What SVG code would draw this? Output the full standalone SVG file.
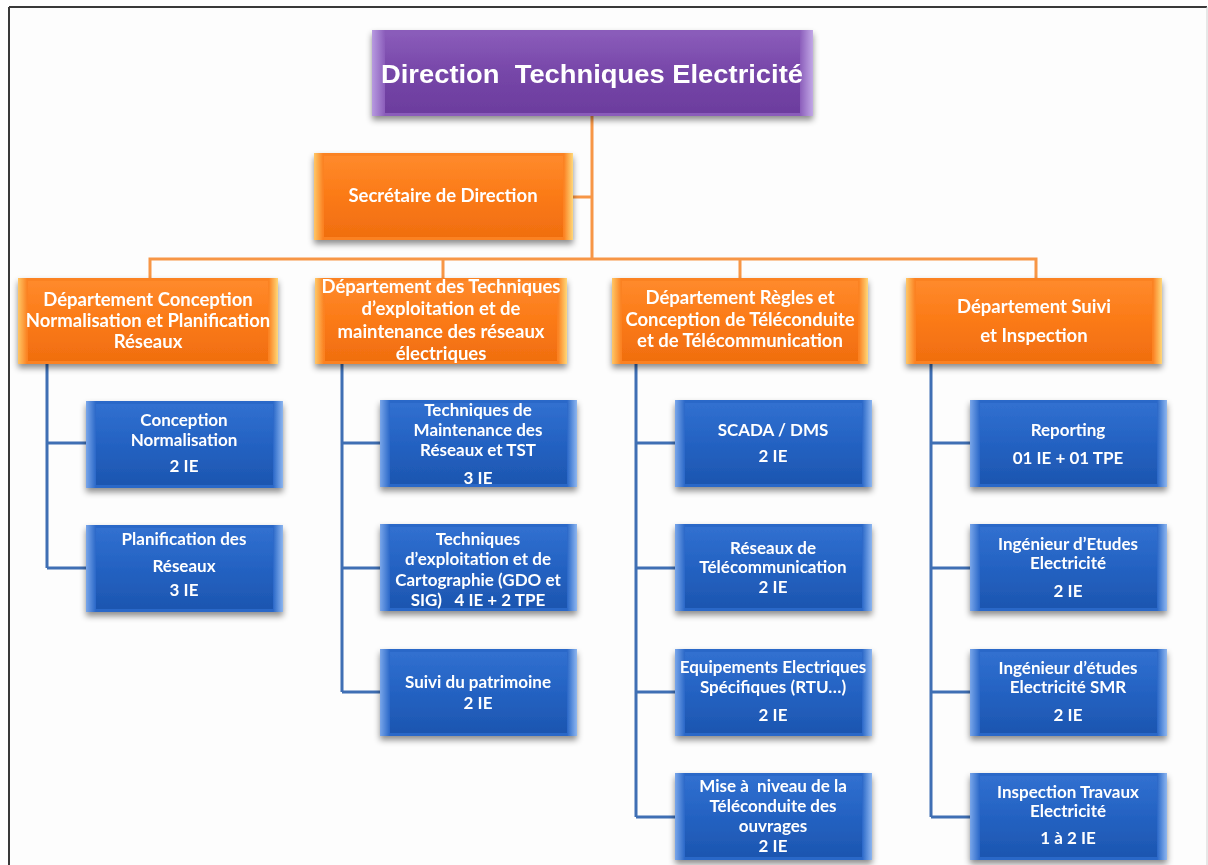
<svg xmlns="http://www.w3.org/2000/svg" width="1208" height="865" viewBox="0 0 1208 865">
  <defs>
    <linearGradient id="gPurple" x1="0" y1="0" x2="0" y2="1">
      <stop offset="0" stop-color="#8a5cba"/>
      <stop offset="0.5" stop-color="#7646a8"/>
      <stop offset="1" stop-color="#6c3d9e"/>
    </linearGradient>
    <linearGradient id="gPurpleEdge" x1="0" y1="0" x2="1" y2="0">
      <stop offset="0" stop-color="#b79ae0"/>
      <stop offset="0.03" stop-color="#8a5cba"/>
      <stop offset="0.97" stop-color="#8a5cba"/>
      <stop offset="1" stop-color="#c2a8e6"/>
    </linearGradient>
    <linearGradient id="gOrange" x1="0" y1="0" x2="0" y2="1">
      <stop offset="0" stop-color="#ff8a2c"/>
      <stop offset="0.5" stop-color="#fb7a16"/>
      <stop offset="1" stop-color="#f06e10"/>
    </linearGradient>
    <linearGradient id="gOrangeEdge" x1="0" y1="0" x2="1" y2="0">
      <stop offset="0" stop-color="#ffc766"/>
      <stop offset="0.035" stop-color="#fb8222"/>
      <stop offset="0.965" stop-color="#fb8222"/>
      <stop offset="1" stop-color="#ffd87a"/>
    </linearGradient>
    <linearGradient id="gBlue" x1="0" y1="0" x2="0" y2="1">
      <stop offset="0" stop-color="#3170d0"/>
      <stop offset="0.5" stop-color="#2462c2"/>
      <stop offset="1" stop-color="#1d56b0"/>
    </linearGradient>
    <linearGradient id="gBlueEdge" x1="0" y1="0" x2="1" y2="0">
      <stop offset="0" stop-color="#79a6ea"/>
      <stop offset="0.05" stop-color="#2a68c8"/>
      <stop offset="0.95" stop-color="#2a68c8"/>
      <stop offset="1" stop-color="#8db6f0"/>
    </linearGradient>
    <filter id="shadow" x="-10%" y="-20%" width="120%" height="150%">
      <feDropShadow dx="0" dy="4" stdDeviation="3" flood-color="#000" flood-opacity="0.45"/>
    </filter>
  </defs>
  <style>
    .frame { fill: #fdfdfd; stroke: none; }
    .orange-line { stroke: #f79646; stroke-width: 3; fill: none; }
    .blue-line { stroke: #3f6fb4; stroke-width: 3; fill: none; }
    .t { fill: #ffffff; font-family: Lato, "Open Sans", "Liberation Sans", sans-serif; font-weight: bold; font-size: 17px; text-anchor: middle; }
    .dept { font-size: 18.5px; }
    .title { font-family: "Liberation Sans", Arial, sans-serif; font-size: 26px; }
  </style>

  <!-- page frame -->
  <rect x="0" y="0" width="1208" height="865" fill="#ffffff"/>
  <rect class="frame" x="9" y="7" width="1198" height="858"/>
  <line x1="9" y1="7" x2="1207" y2="7" stroke="#3a3a3a" stroke-width="2"/>
  <line x1="9" y1="7" x2="9" y2="865" stroke="#3a3a3a" stroke-width="2"/>
  <line x1="1207" y1="7" x2="1207" y2="865" stroke="#d0d0d0" stroke-width="1"/>

  <!-- connectors -->
  <g id="connectors">
    <path class="orange-line" d="M592 115 V259 M573 197 H592 M150 278 V259 H1036 V278 M443 259 V278 M740 259 V278"/>
    <path class="blue-line" d="M47 364 V568 M47 443 H86 M47 568 H86"/>
    <path class="blue-line" d="M342 364 V692 M342 443 H380 M342 568 H380 M342 692 H380"/>
    <path class="blue-line" d="M636 364 V817 M636 443 H675 M636 568 H675 M636 692 H675 M636 817 H675"/>
    <path class="blue-line" d="M931 364 V817 M931 443 H970 M931 568 H970 M931 692 H970 M931 817 H970"/>
  </g>

  <!-- top node -->
  <g id="direction" filter="url(#shadow)">
    <rect x="372" y="30" width="441" height="86" fill="url(#gPurpleEdge)"/>
    <rect x="385" y="33" width="415" height="80" fill="url(#gPurple)"/>
    <text class="t title" x="592" y="83" textLength="422" lengthAdjust="spacingAndGlyphs" xml:space="preserve">Direction  Techniques Electricité</text>
  </g>

  <g id="secretaire" filter="url(#shadow)">
    <rect x="314" y="153" width="259" height="87" fill="url(#gOrangeEdge)"/>
    <rect x="324" y="156" width="239" height="81" fill="url(#gOrange)"/>
    <text class="t dept" x="443" y="202">Secrétaire de Direction</text>
  </g>

  <!-- departments -->
  <g id="dept-conception" filter="url(#shadow)">
    <rect x="18" y="278" width="260" height="86" fill="url(#gOrangeEdge)"/>
    <rect x="28" y="281" width="240" height="80" fill="url(#gOrange)"/>
    <text class="t dept" x="148" y="306">Département Conception</text>
    <text class="t dept" x="148" y="327">Normalisation et Planification</text>
    <text class="t dept" x="148" y="348">Réseaux</text>
  </g>

  <g id="dept-exploitation" filter="url(#shadow)">
    <rect x="315" y="278" width="252" height="86" fill="url(#gOrangeEdge)"/>
    <rect x="325" y="281" width="232" height="80" fill="url(#gOrange)"/>
    <text class="t dept" x="441" y="293">Département des Techniques</text>
    <text class="t dept" x="441" y="315">d’exploitation et de</text>
    <text class="t dept" x="441" y="338">maintenance des réseaux</text>
    <text class="t dept" x="441" y="360">électriques</text>
  </g>

  <g id="dept-teleconduite" filter="url(#shadow)">
    <rect x="612" y="278" width="256" height="86" fill="url(#gOrangeEdge)"/>
    <rect x="622" y="281" width="236" height="80" fill="url(#gOrange)"/>
    <text class="t dept" x="740" y="304">Département Règles et</text>
    <text class="t dept" x="740" y="326">Conception de Téléconduite</text>
    <text class="t dept" x="740" y="347">et de Télécommunication</text>
  </g>

  <g id="dept-suivi" filter="url(#shadow)">
    <rect x="906" y="278" width="256" height="86" fill="url(#gOrangeEdge)"/>
    <rect x="916" y="281" width="236" height="80" fill="url(#gOrange)"/>
    <text class="t dept" x="1034" y="313">Département Suivi</text>
    <text class="t dept" x="1034" y="342">et Inspection</text>
  </g>

  <!-- column 1 -->
  <g id="conception-normalisation" filter="url(#shadow)">
    <rect x="86" y="401" width="197" height="87" fill="url(#gBlueEdge)"/>
    <rect x="96" y="404" width="177" height="81" fill="url(#gBlue)"/>
    <text class="t" x="184" y="426">Conception</text>
    <text class="t" x="184" y="446">Normalisation</text>
    <text class="t" x="184" y="472">2 IE</text>
  </g>
  <g id="planification-reseaux" filter="url(#shadow)">
    <rect x="86" y="525" width="197" height="87" fill="url(#gBlueEdge)"/>
    <rect x="96" y="528" width="177" height="81" fill="url(#gBlue)"/>
    <text class="t" x="184" y="545">Planification des</text>
    <text class="t" x="184" y="572">Réseaux</text>
    <text class="t" x="184" y="596">3 IE</text>
  </g>

  <!-- column 2 -->
  <g id="maintenance-reseaux" filter="url(#shadow)">
    <rect x="380" y="400" width="197" height="87" fill="url(#gBlueEdge)"/>
    <rect x="390" y="403" width="177" height="81" fill="url(#gBlue)"/>
    <text class="t" x="478" y="416">Techniques de</text>
    <text class="t" x="478" y="436">Maintenance des</text>
    <text class="t" x="478" y="456">Réseaux et TST</text>
    <text class="t" x="478" y="484">3 IE</text>
  </g>
  <g id="exploitation-cartographie" filter="url(#shadow)">
    <rect x="380" y="524" width="197" height="87" fill="url(#gBlueEdge)"/>
    <rect x="390" y="527" width="177" height="81" fill="url(#gBlue)"/>
    <text class="t" x="478" y="545">Techniques</text>
    <text class="t" x="478" y="565">d’exploitation et de</text>
    <text class="t" x="478" y="586">Cartographie (GDO et</text>
    <text class="t" x="478" y="606" xml:space="preserve">SIG)   4 IE + 2 TPE</text>
  </g>
  <g id="suivi-patrimoine" filter="url(#shadow)">
    <rect x="380" y="649" width="197" height="87" fill="url(#gBlueEdge)"/>
    <rect x="390" y="652" width="177" height="81" fill="url(#gBlue)"/>
    <text class="t" x="478" y="688">Suivi du patrimoine</text>
    <text class="t" x="478" y="709">2 IE</text>
  </g>

  <!-- column 3 -->
  <g id="scada-dms" filter="url(#shadow)">
    <rect x="675" y="400" width="197" height="87" fill="url(#gBlueEdge)"/>
    <rect x="685" y="403" width="177" height="81" fill="url(#gBlue)"/>
    <text class="t" x="773" y="436">SCADA / DMS</text>
    <text class="t" x="773" y="462">2 IE</text>
  </g>
  <g id="reseaux-telecom" filter="url(#shadow)">
    <rect x="675" y="524" width="197" height="87" fill="url(#gBlueEdge)"/>
    <rect x="685" y="527" width="177" height="81" fill="url(#gBlue)"/>
    <text class="t" x="773" y="554">Réseaux de</text>
    <text class="t" x="773" y="573">Télécommunication</text>
    <text class="t" x="773" y="593">2 IE</text>
  </g>
  <g id="equipements-electriques" filter="url(#shadow)">
    <rect x="675" y="649" width="197" height="87" fill="url(#gBlueEdge)"/>
    <rect x="685" y="652" width="177" height="81" fill="url(#gBlue)"/>
    <text class="t" x="773" y="673">Equipements Electriques</text>
    <text class="t" x="773" y="693">Spécifiques (RTU…)</text>
    <text class="t" x="773" y="721">2 IE</text>
  </g>
  <g id="mise-a-niveau" filter="url(#shadow)">
    <rect x="675" y="773" width="197" height="87" fill="url(#gBlueEdge)"/>
    <rect x="685" y="776" width="177" height="81" fill="url(#gBlue)"/>
    <text class="t" x="773" y="792" xml:space="preserve">Mise à  niveau de la</text>
    <text class="t" x="773" y="812">Téléconduite des</text>
    <text class="t" x="773" y="832">ouvrages</text>
    <text class="t" x="773" y="852">2 IE</text>
  </g>

  <!-- column 4 -->
  <g id="reporting" filter="url(#shadow)">
    <rect x="970" y="400" width="197" height="87" fill="url(#gBlueEdge)"/>
    <rect x="980" y="403" width="177" height="81" fill="url(#gBlue)"/>
    <text class="t" x="1068" y="436">Reporting</text>
    <text class="t" x="1068" y="464">01 IE + 01 TPE</text>
  </g>
  <g id="ingenieur-etudes" filter="url(#shadow)">
    <rect x="970" y="524" width="197" height="87" fill="url(#gBlueEdge)"/>
    <rect x="980" y="527" width="177" height="81" fill="url(#gBlue)"/>
    <text class="t" x="1068" y="550">Ingénieur d’Etudes</text>
    <text class="t" x="1068" y="569">Electricité</text>
    <text class="t" x="1068" y="597">2 IE</text>
  </g>
  <g id="ingenieur-smr" filter="url(#shadow)">
    <rect x="970" y="649" width="197" height="87" fill="url(#gBlueEdge)"/>
    <rect x="980" y="652" width="177" height="81" fill="url(#gBlue)"/>
    <text class="t" x="1068" y="674">Ingénieur d’études</text>
    <text class="t" x="1068" y="693">Electricité SMR</text>
    <text class="t" x="1068" y="721">2 IE</text>
  </g>
  <g id="inspection-travaux" filter="url(#shadow)">
    <rect x="970" y="773" width="197" height="87" fill="url(#gBlueEdge)"/>
    <rect x="980" y="776" width="177" height="81" fill="url(#gBlue)"/>
    <text class="t" x="1068" y="798">Inspection Travaux</text>
    <text class="t" x="1068" y="817">Electricité</text>
    <text class="t" x="1068" y="844">1 à 2 IE</text>
  </g>
</svg>
